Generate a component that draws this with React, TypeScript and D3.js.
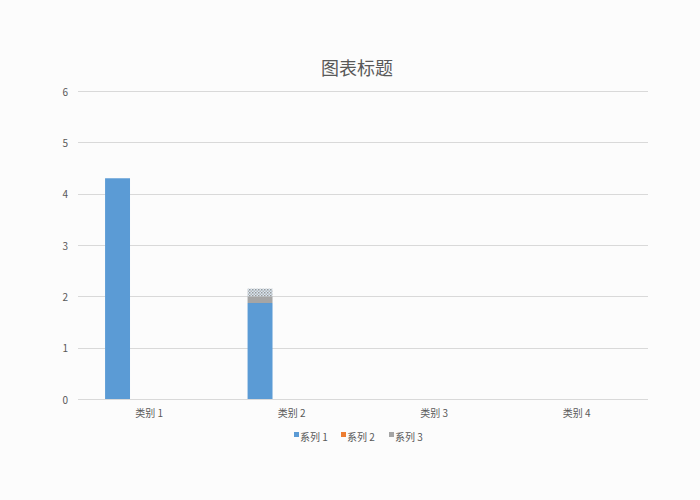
import * as d3 from "d3";
import { useEffect, useRef } from "react";

const categories = ["类别 1", "类别 2", "类别 3", "类别 4"];
const seriesNames = ["系列 1", "系列 2", "系列 3"];
const series1 = [4.3, 1.87, 0, 0];
const series2 = [0, 0, 0, 0];
const series3 = [0, 0.13, 0, 0];
// dotted remainder drawn on top of the second column (not in the legend)
const overflow = [0, 0.15, 0, 0];
const yTicks = [0, 1, 2, 3, 4, 5, 6];

const COLORS = ["#5b9bd5", "#ed7d31", "#a5a5a5"];
const TEXT = "#595959";
const FONT = "'Noto Sans CJK SC', 'Noto Sans', sans-serif";

const W = 700;
const H = 500;

export default function App() {
  const svgRef = useRef<SVGSVGElement>(null);

  useEffect(() => {
    document.body.style.margin = "0";
    const svgEl = svgRef.current;
    if (!svgEl) return;
    const svg = d3.select(svgEl);
    svg.selectAll("*").remove();

    const margin = { top: 91, right: 52, bottom: 101, left: 78 };
    const innerW = W - margin.left - margin.right;
    const innerH = H - margin.top - margin.bottom;

    svg.append("rect").attr("width", W).attr("height", H).attr("fill", "#fcfcfc");

    const defs = svg.append("defs");
    const pat = defs
      .append("pattern")
      .attr("id", "dots")
      .attr("width", 3)
      .attr("height", 3)
      .attr("patternUnits", "userSpaceOnUse");
    pat.append("rect").attr("width", 3).attr("height", 3).attr("fill", "#d7e6f3");
    pat.append("rect").attr("width", 1.5).attr("height", 1.5).attr("fill", "#9a9a9a");
    pat
      .append("rect")
      .attr("x", 1.5)
      .attr("y", 1.5)
      .attr("width", 1.5)
      .attr("height", 1.5)
      .attr("fill", "#b5b5b5");

    const x = d3.scaleBand<string>().domain(categories).range([0, innerW]);
    const y = d3.scaleLinear().domain([0, 6]).range([innerH, 0]);

    const g = svg
      .append("g")
      .attr("transform", `translate(${margin.left},${margin.top})`);

    // title
    svg
      .append("text")
      .attr("x", 357)
      .attr("y", 75)
      .attr("text-anchor", "middle")
      .attr("fill", TEXT)
      .style("font", `18px ${FONT}`)
      .text("图表标题");

    g.selectAll("line.grid")
      .data(yTicks)
      .enter()
      .append("line")
      .attr("x1", 0)
      .attr("x2", innerW)
      .attr("y1", (t) => Math.round(y(t)) + 0.5)
      .attr("y2", (t) => Math.round(y(t)) + 0.5)
      .attr("stroke", "#d9d9d9")
      .attr("stroke-width", 1);

    g.selectAll("text.tick-y")
      .data(yTicks)
      .enter()
      .append("text")
      .attr("x", -10)
      .attr("y", (t) => y(t))
      .attr("text-anchor", "end")
      .attr("dominant-baseline", "central")
      .attr("fill", TEXT)
      .style("font", `10px ${FONT}`)
      .text((t) => String(t));

    g.selectAll("text.tick-x")
      .data(categories)
      .enter()
      .append("text")
      .attr("x", (c) => (x(c) ?? 0) + x.bandwidth() / 2)
      .attr("y", innerH + 18)
      .attr("text-anchor", "middle")
      .attr("fill", TEXT)
      .style("font", `10px ${FONT}`)
      .text((c) => c);

    // stacked columns sit in the first slot of each category
    const rows = categories.map((c, i) => ({
      cat: c,
      s1: series1[i],
      s2: series2[i],
      s3: series3[i],
      extra: overflow[i],
    }));
    const stack = d3.stack<(typeof rows)[number]>().keys(["s1", "s2", "s3", "extra"]);
    const layers = stack(rows);
    const fills = [COLORS[0], COLORS[1], COLORS[2], "url(#dots)"];
    const barOffset = x.bandwidth() * 0.19;
    const barW = x.bandwidth() * 0.175;

    layers.forEach((layer, li) => {
      g.selectAll(`rect.layer-${li}`)
        .data(layer.filter((d) => d[1] - d[0] > 0))
        .enter()
        .append("rect")
        .attr("x", (d) => (x(d.data.cat) ?? 0) + barOffset)
        .attr("width", barW)
        .attr("y", (d) => y(d[1]))
        .attr("height", (d) => y(d[0]) - y(d[1]))
        .attr("fill", fills[li]);
    });

    // legend
    const legendX = [294, 341, 389];
    const lg = svg.append("g");
    seriesNames.forEach((name, i) => {
      lg.append("rect")
        .attr("x", legendX[i])
        .attr("y", 432)
        .attr("width", 5)
        .attr("height", 5)
        .attr("fill", COLORS[i]);
      lg.append("text")
        .attr("x", legendX[i] + 6)
        .attr("y", 436)
        .attr("dominant-baseline", "central")
        .attr("fill", TEXT)
        .style("font", `10px ${FONT}`)
        .text(name);
    });
  }, []);

  return <svg ref={svgRef} width={W} height={H} style={{ display: "block" }} />;
}
